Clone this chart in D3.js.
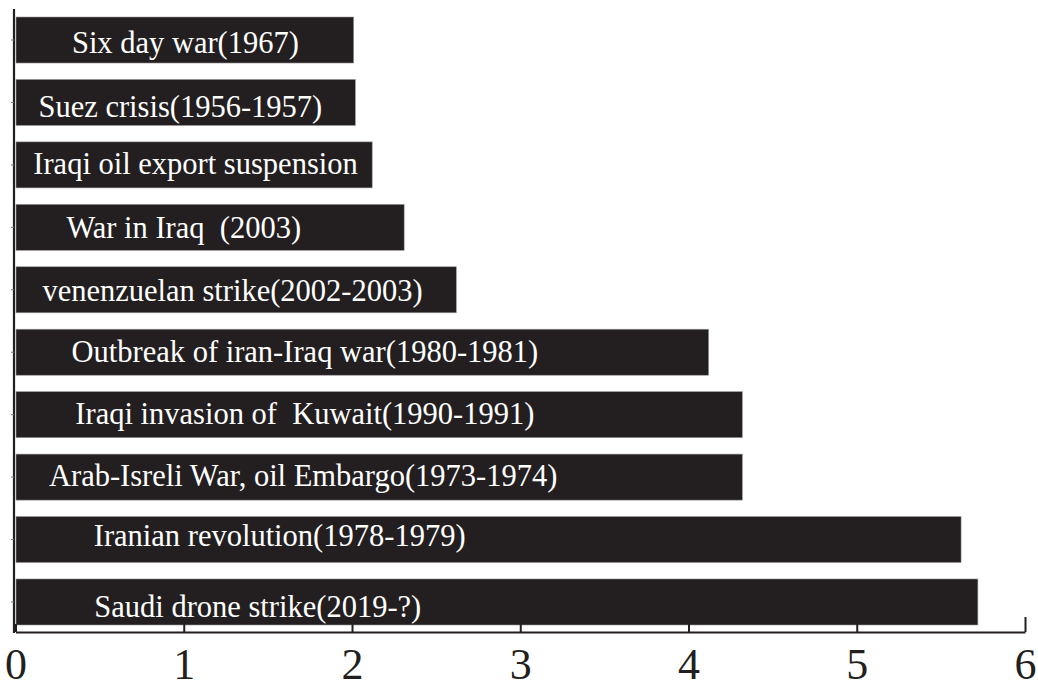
<!DOCTYPE html>
<html>
<head>
<meta charset="utf-8">
<script src="https://cdn.jsdelivr.net/npm/d3@7"></script>
<style>
  html, body { margin: 0; padding: 0; background: #ffffff; }
  svg { display: block; }
  .lbl { white-space: pre; }
</style>
</head>
<body>
<div id="chart"></div>
<script>
// ---- data ----
const categories = [
  "Six day war(1967)",
  "Suez crisis(1956-1957)",
  "Iraqi oil export suspension",
  "War in Iraq  (2003)",
  "venenzuelan strike(2002-2003)",
  "Outbreak of iran-Iraq war(1980-1981)",
  "Iraqi invasion of  Kuwait(1990-1991)",
  "Arab-Isreli War, oil Embargo(1973-1974)",
  "Iranian revolution(1978-1979)",
  "Saudi drone strike(2019-?)"
];
const values = [2.01, 2.02, 2.12, 2.31, 2.62, 4.12, 4.32, 4.32, 5.62, 5.72];
const xTicks = [0, 1, 2, 3, 4, 5, 6];
// label placement as in the original: centre (axis units) and baseline shift (px)
const labelCentres = [1.01, 0.98, 1.07, 1.0, 1.29, 1.72, 1.72, 1.71, 1.57, 1.44];
const labelShift = [13, 15, 9, 11, 11, 10, 9, 9, 6, 15];

// ---- layout ----
const W = 1038, H = 681;
const ink = "#231f20";
const serif = "'Liberation Serif', 'DejaVu Serif', serif";
const svg = d3.select("#chart").append("svg")
  .attr("width", W).attr("height", H);
svg.append("rect").attr("width", W).attr("height", H).attr("fill", "#fff");

const x = d3.scaleLinear().domain([0, 6]).range([15.5, 1025]);
const y = d3.scaleBand().domain(categories).range([17, 625])
  .paddingInner(0.263).paddingOuter(0);

// bars
svg.append("g").selectAll("rect")
  .data(categories)
  .join("rect")
  .attr("x", x(0) + 0.5)
  .attr("y", d => y(d))
  .attr("width", (d, i) => x(values[i]) - x(0) - 0.5)
  .attr("height", y.bandwidth())
  .attr("fill", ink)
  .attr("stroke", "#9a9899")
  .attr("stroke-width", 0.6);

// labels
svg.append("g").selectAll("text")
  .data(categories)
  .join("text")
  .attr("class", "lbl")
  .attr("x", (d, i) => x(labelCentres[i]))
  .attr("y", (d, i) => y(d) + y.bandwidth() / 2 + labelShift[i])
  .attr("text-anchor", "middle")
  .attr("fill", "#ffffff")
  .attr("font-family", serif)
  .attr("font-size", 30.5)
  .text(d => d);

// x axis
const xAxis = svg.append("g")
  .attr("transform", `translate(0,${632})`)
  .call(d3.axisBottom(x).tickValues(xTicks).tickSize(-8).tickSizeOuter(0).tickFormat(d3.format("d")));
xAxis.select(".domain").attr("stroke", ink).attr("stroke-width", 2.2);
xAxis.selectAll(".tick line").attr("stroke", ink).attr("stroke-width", 2)
  .attr("y2", d => d === 6 ? -15 : -8);
xAxis.selectAll(".tick text")
  .attr("y", 47).attr("dy", 0)
  .attr("fill", ink)
  .attr("font-family", serif)
  .attr("font-size", 44);

// y axis (no labels, tiny ticks at band centres)
const yAxis = svg.append("g")
  .attr("transform", `translate(${14},0)`)
  .call(d3.axisLeft(y).tickSize(3).tickSizeOuter(0).tickFormat(""));
yAxis.select(".domain").attr("stroke", ink).attr("stroke-width", 2.2)
  .attr("d", "M0,9V633");
yAxis.selectAll(".tick line").attr("stroke", "#777").attr("stroke-width", 1);
</script>
</body>
</html>
